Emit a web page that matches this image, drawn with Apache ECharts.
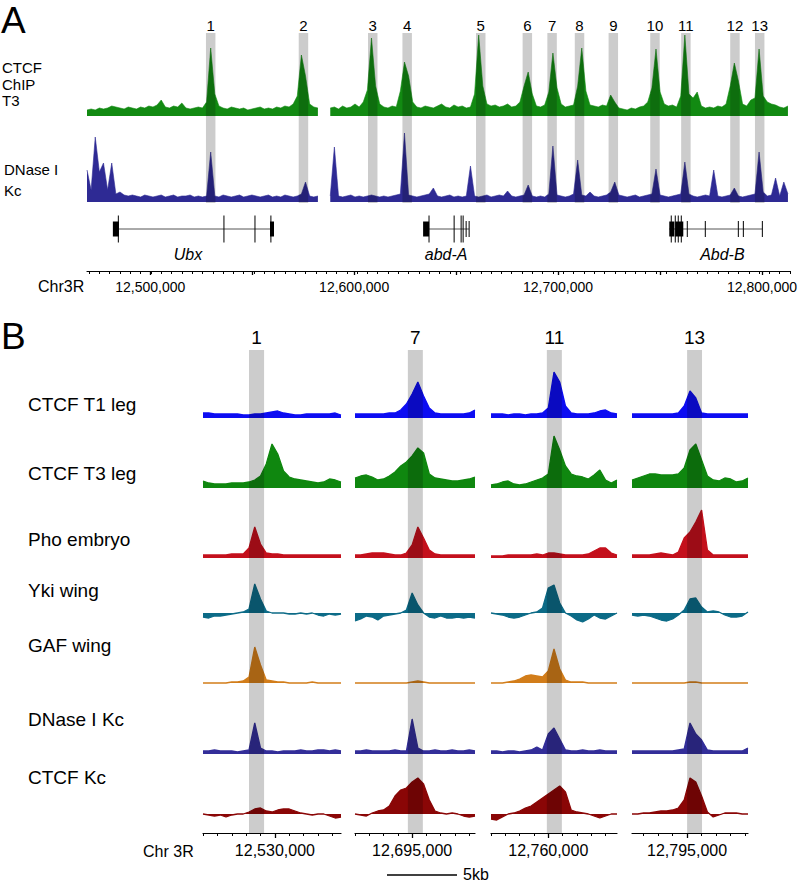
<!DOCTYPE html>
<html><head><meta charset="utf-8">
<script src="https://cdn.jsdelivr.net/npm/echarts@6/dist/echarts.min.js"></script>
<style>html,body{margin:0;padding:0;background:#fff}#c{width:800px;height:884px}</style>
</head><body><div id="c"></div>
<script>
// ================= DATA : panel A =================
const aStart1 = 12469000, aStart2 = 12587000, aStep = 2000;
const ctcfT3Seg1 = [6,7,6,8,7,8,10,9,8,7, 9,8,7,9,8,10,9,11,16,9, 8,10,9,13,8,7,8,9,8,14, 68,22,10,8,7,9,8,7,8,6, 7,8,9,7,8,7,9,8,10,9, 12,20,61,40,12,9,8];
const ctcfT3Seg2 = [8,9,7,10,8,9,12,9,14,26, 78,30,12,9,8,10,9,25,54,40, 14,9,8,10,9,8,10,12,9,8, 11,9,10,8,9,22,81,30,12,10, 11,9,10,12,9,10,14,30,44,22, 10,9,11,24,63,28,12,9,10,11, 30,68,25,11,10,9,11,10,21,14, 8,7,6,8,7,9,10,14,28,67, 24,12,10,11,9,20,81,22,18,24, 10,8,9,8,10,9,12,30,53,35, 12,10,16,18,67,20,14,12,11,9, 8,10];
const dnaseSeg1 = [32,12,65,30,39,12,39,8,10,7, 6,7,6,5,7,6,5,6,7,5, 6,7,5,6,6,7,5,6,5,6, 50,6,5,7,6,5,6,7,5,6, 7,6,5,6,7,5,6,5,7,6, 5,6,8,20,6,5,6];
const dnaseSeg2 = [6,55,6,5,6,7,5,6,5,6, 7,6,5,6,5,6,7,8,69,7, 6,5,6,7,8,14,6,5,6,7, 5,6,5,6,36,6,5,6,7,5, 6,7,6,11,6,5,6,7,17,6, 5,6,5,8,56,7,6,5,6,8, 42,7,6,10,6,5,6,7,10,20, 7,6,5,6,7,5,6,7,8,33, 7,6,5,6,7,8,40,8,6,5, 6,7,6,32,6,5,6,7,14,6, 5,6,7,8,50,10,6,7,24,6, 20,8];
const aBandLabels = ['1','2','3','4','5','6','7','8','9','10','11','12','13'];
const aBandCenters = [12529000,12574000,12607600,12624300,12660000,12682600,12694600,12707900,12724300,12744500,12759500,12783300,12795300];
const aBandHalfWidth = 2300;
const aTickLabelValues = [12500000,12600000,12700000,12800000];
const geneNames = ['Ubx','abd-A','Abd-B'];
const geneLabelPos = [12518000,12643200,12777200];
const intronSpans = [[12484470,12558740],[12634900,12654360],[12751440,12796590]];
const exonBlocks = [[12481550,12484470],[12557760,12559700],[12632030,12634940],[12751440,12753900],[12754300,12758240]];
const tallMarks = [12484200,12558200,12535430,12550480,12634900,12647080,12650480,12651450,12752400,12754350,12755800,12757270];
const shortMarks = [12652900,12654360,12760180,12768920,12784940,12787370,12796590];

// ================= DATA : panel B =================
const bColLabels = ['1','7','11','13'];
const bColStart = [12525000,12691000,12756000,12791200];
const bStep = 400;
const bColTick = [12530000,12695000,12760000,12795000];
const bBands = [[12528200,12529250],[12694700,12695750],[12759900,12760950],[12795000,12796030]];
const bTrackNames = ['CTCF T1 leg','CTCF T3 leg','Pho embryo','Yki wing','GAF wing','DNase I Kc','CTCF Kc'];
const ctcfT1Leg = [
  [5,5,4,4,4,4,4,3,3,4,4,5,6,7,5,4,3,3,4,4,4,4,4,5,3],
  [4,4,4,4,4,4,5,5,8,14,24,36,22,10,5,4,4,4,4,4,5,8],
  [4,4,4,3,4,4,3,4,4,5,10,46,36,12,5,4,4,4,5,7,8,5,4],
  [4,4,4,4,4,4,4,4,5,12,27,20,5,4,4,4,4,4,4,4,4]];
const ctcfT3Leg = [
  [7,5,4,4,4,5,5,5,6,8,12,24,44,34,17,11,9,8,7,6,5,6,9,8,6],
  [10,12,13,11,8,9,12,16,22,26,32,40,35,14,10,9,8,7,7,8,9,11],
  [3,4,6,7,4,3,4,6,8,10,14,52,38,22,14,12,11,9,13,18,8,5,8],
  [8,10,12,14,14,13,13,13,14,20,38,44,28,12,8,7,10,9,6,7,10]];
const phoEmbryo = [
  [3,3,3,3,3,4,4,4,10,31,14,5,4,4,3,3,3,3,3,3,3,3,3,3,3],
  [3,3,4,5,5,5,4,3,3,5,13,31,20,8,4,3,3,3,3,3,3,3],
  [2,2,2,3,3,3,3,3,4,3,5,5,4,3,3,3,3,4,7,10,10,5,3],
  [3,3,3,3,4,5,4,3,6,20,26,36,48,8,3,3,3,3,3,3,3]];
const ykiWing = [
  [-4,-5,-3,-3,-2,-1,0,1,4,29,14,2,0,0,0,-1,-1,0,-1,0,-2,-3,-1,-2,-1],
  [-8,-6,-3,-4,-7,-3,-2,-1,0,3,20,8,0,-4,-5,-3,-5,-5,-4,-5,-4,-5],
  [0,-1,-2,-4,-5,-4,-2,0,1,5,25,28,10,0,-3,-7,-9,-6,-2,-5,-6,-3,0],
  [-2,-3,-2,-3,-5,-7,-8,-6,-2,3,14,15,6,1,2,1,-2,-4,-4,-3,1]];
const gafWing = [
  [0,0,0,0,0,1,1,2,6,36,18,3,2,1,1,0,0,0,0,1,0,0,0,0,0],
  [0,0,0,0,0,0,0,0,0,0,1,2,1,0,0,0,0,0,0,0,0,0],
  [0,0,0,1,2,4,7,8,7,6,12,34,14,3,1,1,1,0,0,0,0,0,0],
  [0,0,0,0,0,0,0,0,0,0,1,1,0,0,0,0,0,0,0,0,0]];
const dnaseKc = [
  [3,3,4,3,3,3,2,3,4,31,6,3,3,2,3,3,3,4,3,3,4,4,3,4,3],
  [3,3,4,3,3,3,3,4,3,3,35,6,3,3,4,3,3,4,3,3,4,3],
  [3,3,2,3,3,2,3,4,7,4,20,26,15,4,3,3,4,3,3,4,3,3,3],
  [3,3,3,3,3,3,3,3,4,5,31,20,14,4,3,3,3,3,3,3,6]];
const ctcfKc = [
  [0,-1,-2,-1,-3,-1,0,0,2,5,6,3,2,4,5,5,3,1,0,-1,0,0,-2,-4,-3],
  [0,-1,-2,1,3,4,8,18,24,26,32,36,30,14,3,1,0,1,0,-2,-3,-2],
  [-5,-6,-3,0,1,3,6,8,12,16,20,24,28,22,4,2,1,0,-2,-4,-2,0,0],
  [0,0,1,1,2,3,3,4,6,14,36,32,18,2,-3,-1,1,1,1,0,0]];
const scaleBarBp = 5000;
const scaleBarLabel = '5kb';

// ================= LAYOUT / STYLE =================
const FONT = '"Liberation Sans", Arial, Helvetica, sans-serif';
const BAND_FILL = 'rgba(0,0,0,0.2)';
const A = {left:87, width:703, min:12469000, max:12810000};
const bColLeft = [203,355,491,632];
const bColWidth = [138,120,126,116];
const bBase = [418,488,558,613,683,754,814];
const bColors = ['#0d0df2','#0f870f','#c4101c','#0c6b87','#d27d1a','#332e99','#8a0606'];
const bTracks = [ctcfT1Leg, ctcfT3Leg, phoEmbryo, ykiWing, gafWing, dnaseKc, ctcfKc];

const grids=[], xAxes=[], yAxes=[], series=[];
function addGrid(g, x, y){
  grids.push(g); const gi = grids.length-1;
  xAxes.push(Object.assign({gridIndex:gi, type:'value', show:false, splitLine:{show:false}}, x||{}));
  yAxes.push(Object.assign({gridIndex:gi, type:'value', show:false, splitLine:{show:false}, min:0, max:1}, y||{}));
  return gi;
}
function areaSeries(gi, data, color, lw){
  series.push({type:'line', xAxisIndex:gi, yAxisIndex:gi, data:data, showSymbol:false, symbol:'none',
    silent:true, animation:false, z:2,
    lineStyle:{color:color, width:lw}, areaStyle:{color:color, opacity:1}});
}
function fmt(v){ return Number(v).toLocaleString('en-US'); }
function bandSeries(gi, spans, labels, offset, fs){
  series.push({type:'custom', xAxisIndex:gi, yAxisIndex:gi, data:spans, z:10, silent:true, animation:false,
    renderItem:function(params, api){
      const a = api.coord([api.value(0), 1]);
      const b = api.coord([api.value(1), 0]);
      return {type:'group', children:[
        {type:'rect', shape:{x:a[0], y:a[1], width:b[0]-a[0], height:b[1]-a[1]}, style:{fill:BAND_FILL}},
        {type:'text', x:(a[0]+b[0])/2, y:a[1]-offset, style:{text:labels[params.dataIndex], fill:'#000',
          font: fs+'px '+FONT, align:'center', verticalAlign:'middle'}}
      ]};
    }});
}
function axisPair(left, width, top, min, max, minorTicks, majorTicks, labelVals, fs, margin, minorLen, majorLen){
  const g1 = addGrid({left:left, top:top, width:width, height:1},
    {show:true, min:min, max:max, position:'bottom',
     axisLine:{show:true, lineStyle:{color:'#000', width:1.2}},
     axisTick:{show:true, customValues:minorTicks, length:minorLen, lineStyle:{color:'#000', width:1}},
     axisLabel:{show:false}});
  const g2 = addGrid({left:left, top:top, width:width, height:1},
    {show:true, min:min, max:max, position:'bottom',
     axisLine:{show:false},
     axisTick:{show:true, customValues:majorTicks, length:majorLen, lineStyle:{color:'#000', width:1.3}},
     axisLabel:{show:true, customValues:labelVals, margin:margin, color:'#000', fontSize:fs, fontFamily:FONT, formatter:fmt}});
  series.push({type:'line', xAxisIndex:g1, yAxisIndex:g1, data:[], silent:true});
  series.push({type:'line', xAxisIndex:g2, yAxisIndex:g2, data:[], silent:true});
}

// ---------- Panel A ----------
const gGreen = addGrid({left:A.left, top:31, width:A.width, height:85}, {min:A.min, max:A.max}, {min:0, max:85});
areaSeries(gGreen, ctcfT3Seg1.map((v,i)=>[aStart1+i*aStep, v]), '#128a12', 0.6);
areaSeries(gGreen, ctcfT3Seg2.map((v,i)=>[aStart2+i*aStep, v]), '#128a12', 0.6);
const gBlue = addGrid({left:A.left, top:127, width:A.width, height:75}, {min:A.min, max:A.max}, {min:0, max:75});
areaSeries(gBlue, dnaseSeg1.map((v,i)=>[aStart1+i*aStep, v]), '#2e2a94', 0.6);
areaSeries(gBlue, dnaseSeg2.map((v,i)=>[aStart2+i*aStep, v]), '#2e2a94', 0.6);
const gBandA = addGrid({left:A.left, top:33, width:A.width, height:170}, {min:A.min, max:A.max});
bandSeries(gBandA, aBandCenters.map(c=>[c-aBandHalfWidth, c+aBandHalfWidth]), aBandLabels, 8, 15);

const gGene = addGrid({left:A.left, top:214, width:A.width, height:30}, {min:A.min, max:A.max});
series.push({type:'custom', xAxisIndex:gGene, yAxisIndex:gGene, data:intronSpans, silent:true, animation:false,
  renderItem:function(p, api){ const a=api.coord([api.value(0),0.5]), b=api.coord([api.value(1),0.5]);
    return {type:'line', shape:{x1:a[0], y1:a[1], x2:b[0], y2:b[1]}, style:{stroke:'#555', lineWidth:1}}; }});
series.push({type:'custom', xAxisIndex:gGene, yAxisIndex:gGene, data:exonBlocks, silent:true, animation:false,
  renderItem:function(p, api){ const a=api.coord([api.value(0),0.5]), b=api.coord([api.value(1),0.5]);
    return {type:'rect', shape:{x:a[0], y:a[1]-7.5, width:Math.max(b[0]-a[0],1.5), height:15}, style:{fill:'#000'}}; }});
series.push({type:'custom', xAxisIndex:gGene, yAxisIndex:gGene, data:tallMarks.map(v=>[v]), silent:true, animation:false,
  renderItem:function(p, api){ const a=api.coord([api.value(0),0.5]);
    return {type:'line', shape:{x1:a[0], y1:a[1]-13.5, x2:a[0], y2:a[1]+13.5}, style:{stroke:'#000', lineWidth:1}}; }});
series.push({type:'custom', xAxisIndex:gGene, yAxisIndex:gGene, data:shortMarks.map(v=>[v]), silent:true, animation:false,
  renderItem:function(p, api){ const a=api.coord([api.value(0),0.5]);
    return {type:'line', shape:{x1:a[0], y1:a[1]-8, x2:a[0], y2:a[1]+8}, style:{stroke:'#000', lineWidth:1}}; }});
const gGeneLbl = addGrid({left:A.left, top:245, width:A.width, height:18}, {min:A.min, max:A.max});
series.push({type:'custom', xAxisIndex:gGeneLbl, yAxisIndex:gGeneLbl, data:geneLabelPos.map(v=>[v]), silent:true, animation:false,
  renderItem:function(p, api){ const a=api.coord([api.value(0),0.5]);
    return {type:'text', x:a[0], y:a[1], style:{text:geneNames[p.dataIndex], fill:'#000', font:'italic 16px '+FONT, align:'center', verticalAlign:'middle'}}; }});

const aMinor=[]; for(let p=12470000;p<=A.max;p+=5000) aMinor.push(p);
const aMajor=[]; for(let p=12500000;p<=A.max;p+=50000) aMajor.push(p);
axisPair(A.left, A.width, 270, A.min, A.max, aMinor, aMajor, aTickLabelValues, 14, 9, 3, 4);

// ---------- Panel B ----------
for(let c=0;c<4;c++){
  const n = bTracks[0][c].length;
  const min = bColStart[c], max = bColStart[c] + (n-1)*bStep;
  for(let t=0;t<bTracks.length;t++){
    const g = addGrid({left:bColLeft[c], top:bBase[t]-60, width:bColWidth[c], height:70}, {min:min, max:max}, {min:-10, max:60});
    areaSeries(g, bTracks[t][c].map((v,i)=>[min+i*bStep, v]), bColors[t], 1.3);
  }
  const gb = addGrid({left:bColLeft[c], top:350, width:bColWidth[c], height:483}, {min:min, max:max});
  bandSeries(gb, [bBands[c]], [bColLabels[c]], 13, 19);
  const minor=[]; for(let p=Math.ceil(min/1000)*1000; p<=max; p+=1000) minor.push(p);
  axisPair(bColLeft[c], bColWidth[c], 832, min, max, minor, [bColTick[c]], [bColTick[c]], 16, 9, 3, 5);
}
// scale bar
const gScale = addGrid({left:387, top:874, width:70, height:2}, {min:0, max:scaleBarBp});
series.push({type:'custom', xAxisIndex:gScale, yAxisIndex:gScale, data:[[0, scaleBarBp]], silent:true, animation:false,
  renderItem:function(p, api){ const a=api.coord([api.value(0),0.5]), b=api.coord([api.value(1),0.5]);
    return {type:'group', children:[
      {type:'line', shape:{x1:a[0], y1:a[1], x2:b[0], y2:b[1]}, style:{stroke:'#000', lineWidth:1.5}},
      {type:'text', x:b[0]+6, y:b[1]-1, style:{text:scaleBarLabel, fill:'#000', font:'16px '+FONT, align:'left', verticalAlign:'middle'}}]}; }});

// ---------- static texts ----------
function txt(text, x, y, fs, extra){
  return Object.assign({type:'text', x:x, y:y, silent:true, style:{text:text, fill:'#000', font:fs+'px '+FONT, align:'left', verticalAlign:'middle'}}, extra||{});
}
const graphics = [
  txt('A', 1, 20, 37), txt('B', 1, 336, 37),
  txt('CTCF', 2, 67, 15), txt('ChIP', 2, 84, 15), txt('T3', 2, 100, 15),
  txt('DNase I', 4, 169, 15), txt('Kc', 4, 190, 15),
  txt('Chr3R', 38, 286, 16),
  txt('Chr 3R', 143, 851, 16)
];
const bLabelY = [404, 473, 539, 590, 645, 719, 777];
bTrackNames.forEach((n,i)=>graphics.push(txt(n, 28, bLabelY[i], 19)));

const chart = echarts.init(document.getElementById('c'), null, {renderer:'svg', width:800, height:884});
chart.setOption({animation:false, backgroundColor:'#fff', grid:grids, xAxis:xAxes, yAxis:yAxes, series:series, graphic:graphics});
</script></body></html>
